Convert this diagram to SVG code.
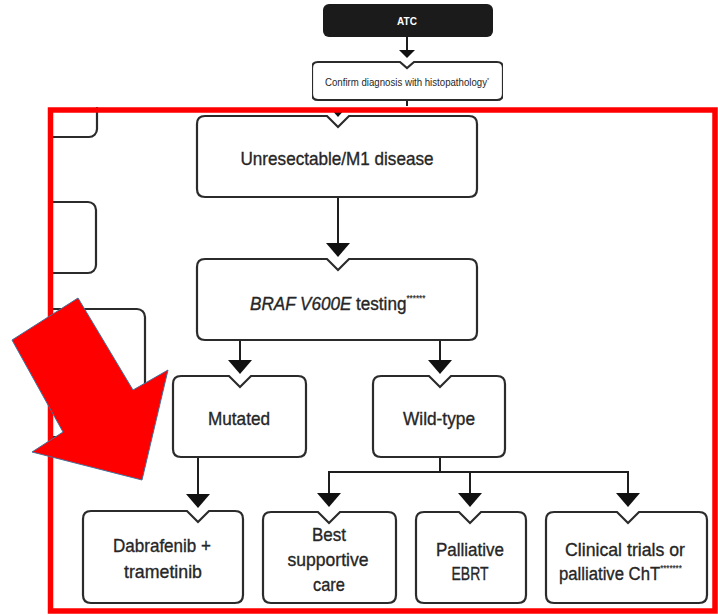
<svg xmlns="http://www.w3.org/2000/svg" width="718" height="615" viewBox="0 0 718 615">
<style>
.box{fill:#fff;stroke:#2b2b2b;stroke-width:2.2}
.lbl{font-family:"Liberation Sans",Arial,sans-serif;font-size:19px;fill:#262626;stroke:#262626;stroke-width:0.35;text-anchor:middle}
.st{text-anchor:start}
.sup{font-size:9px;stroke-width:0.2}
.sm{font-family:"Liberation Sans",Arial,sans-serif;font-size:10.5px;fill:#262626}
.con{stroke:#1e1e1e;stroke-width:2;fill:none}
.ah{fill:#111}
</style>
<rect width="718" height="615" fill="#fff"/>

<g id="left-boxes">
<rect class="box" x="30" y="90" width="67" height="47" rx="8"/>
<rect class="box" x="30" y="202" width="66" height="71" rx="8"/>
<rect class="box" x="30" y="309" width="115" height="128" rx="8"/>
</g>

<g id="connectors">
<line class="con" x1="407" y1="37" x2="407" y2="52"/>
<polygon class="ah" points="399,50 415,50 407,58"/>
<line class="con" x1="407" y1="100" x2="407" y2="106"/>
<polygon class="ah" points="330,108 346,108 338,117"/>
<line class="con" x1="338" y1="197" x2="338" y2="246"/>
<polygon class="ah" points="326,243 350,243 338,257"/>
<line class="con" x1="240" y1="340" x2="240" y2="362"/>
<polygon class="ah" points="228,360 252,360 240,374"/>
<line class="con" x1="440" y1="340" x2="440" y2="362"/>
<polygon class="ah" points="428,360 452,360 440,374"/>
<line class="con" x1="198" y1="457" x2="198" y2="496"/>
<polygon class="ah" points="186,494 210,494 198,508"/>
<line class="con" x1="440" y1="457" x2="440" y2="472"/>
<polyline class="con" points="329,495 329,472 628,472 628,495"/>
<line class="con" x1="470" y1="472" x2="470" y2="495"/>
<polygon class="ah" points="317,493 341,493 329,507"/>
<polygon class="ah" points="458,493 482,493 470,507"/>
<polygon class="ah" points="616,493 640,493 628,507"/>
</g>

<g id="n-atc">
<rect x="323" y="4" width="170" height="33" rx="6" fill="#1b1b1b"/>
<text x="407" y="25" font-family="'Liberation Sans',Arial,sans-serif" font-size="10" font-weight="bold" fill="#fff" text-anchor="middle">ATC</text>
</g>

<g id="n-confirm">
<path class="box" stroke-width="1.6" d="M318,62 H400 L407,68 L414,62 H497 Q503,62 503,68 V94 Q503,100 497,100 H318 Q312,100 312,94 V68 Q312,62 318,62 Z"/>
<text class="sm" transform="translate(325,86) scale(0.92,1)">Confirm diagnosis with histopathology<tspan font-size="6" dy="-4">*</tspan></text>
</g>

<g id="n-unresectable">
<path class="box" d="M205,116 H327 L338,127 L349,116 H469 Q477,116 477,124 V189 Q477,197 469,197 H205 Q197,197 197,189 V124 Q197,116 205,116 Z"/>
<text class="lbl" x="337" y="165" textLength="193" lengthAdjust="spacingAndGlyphs">Unresectable/M1 disease</text>
</g>

<g id="n-braf">
<path class="box" d="M205,259 H327 L338,270 L349,259 H469 Q477,259 477,267 V332 Q477,340 469,340 H205 Q197,340 197,332 V267 Q197,259 205,259 Z"/>
<text class="lbl st" transform="translate(250,310) scale(0.9,1)"><tspan font-style="italic">BRAF V600E</tspan> testing<tspan class="sup" dy="-9">******</tspan></text>
</g>

<g id="n-mutated">
<path class="box" d="M181,376 H229 L240,387 L251,376 H298 Q306,376 306,384 V449 Q306,457 298,457 H181 Q173,457 173,449 V384 Q173,376 181,376 Z"/>
<text class="lbl" x="239" y="425" textLength="62" lengthAdjust="spacingAndGlyphs">Mutated</text>
</g>

<g id="n-wildtype">
<path class="box" d="M381,376 H429 L440,387 L451,376 H497 Q505,376 505,384 V449 Q505,457 497,457 H381 Q373,457 373,449 V384 Q373,376 381,376 Z"/>
<text class="lbl" x="439" y="425" textLength="72" lengthAdjust="spacingAndGlyphs">Wild-type</text>
</g>

<g id="n-dabrafenib">
<path class="box" d="M91,511 H187 L198,522 L209,511 H235 Q243,511 243,519 V595 Q243,603 235,603 H91 Q83,603 83,595 V519 Q83,511 91,511 Z"/>
<text class="lbl" x="162" y="552" textLength="98" lengthAdjust="spacingAndGlyphs">Dabrafenib +</text>
<text class="lbl" x="163" y="578" textLength="78" lengthAdjust="spacingAndGlyphs">trametinib</text>
</g>

<g id="n-bsc">
<path class="box" d="M271,512 H318 L329,523 L340,512 H388 Q396,512 396,520 V595 Q396,603 388,603 H271 Q263,603 263,595 V520 Q263,512 271,512 Z"/>
<text class="lbl" x="329" y="541" textLength="34" lengthAdjust="spacingAndGlyphs">Best</text>
<text class="lbl" x="328" y="566" textLength="81" lengthAdjust="spacingAndGlyphs">supportive</text>
<text class="lbl" x="329" y="591" textLength="32" lengthAdjust="spacingAndGlyphs">care</text>
</g>

<g id="n-ebrt">
<path class="box" d="M424,512 H459 L470,523 L481,512 H518 Q526,512 526,520 V595 Q526,603 518,603 H424 Q416,603 416,595 V520 Q416,512 424,512 Z"/>
<text class="lbl" x="470" y="556" textLength="68" lengthAdjust="spacingAndGlyphs">Palliative</text>
<text class="lbl" x="470" y="580" textLength="37" lengthAdjust="spacingAndGlyphs">EBRT</text>
</g>

<g id="n-trials">
<path class="box" d="M554,512 H617 L628,523 L639,512 H699 Q707,512 707,520 V595 Q707,603 699,603 H554 Q546,603 546,595 V520 Q546,512 554,512 Z"/>
<text class="lbl" x="625" y="556" textLength="120" lengthAdjust="spacingAndGlyphs">Clinical trials or</text>
<text class="lbl st" transform="translate(559,580) scale(0.88,1)">palliative ChT<tspan class="sup" dy="-9">*******</tspan></text>
</g>

<g id="highlight">
<rect x="0" y="0" width="48" height="615" fill="#fff"/>
<rect x="0" y="0" width="312" height="107" fill="#fff"/>
<rect x="503" y="0" width="215" height="107" fill="#fff"/>
<rect x="50.5" y="110" width="664.5" height="501" fill="none" stroke="#ff0000" stroke-width="5.5"/>
<polygon points="78,298 133,390 168,370 142,480 32,452 63,432 12,340" fill="#ff0000" stroke="#41719c" stroke-width="1"/>
</g>
</svg>
